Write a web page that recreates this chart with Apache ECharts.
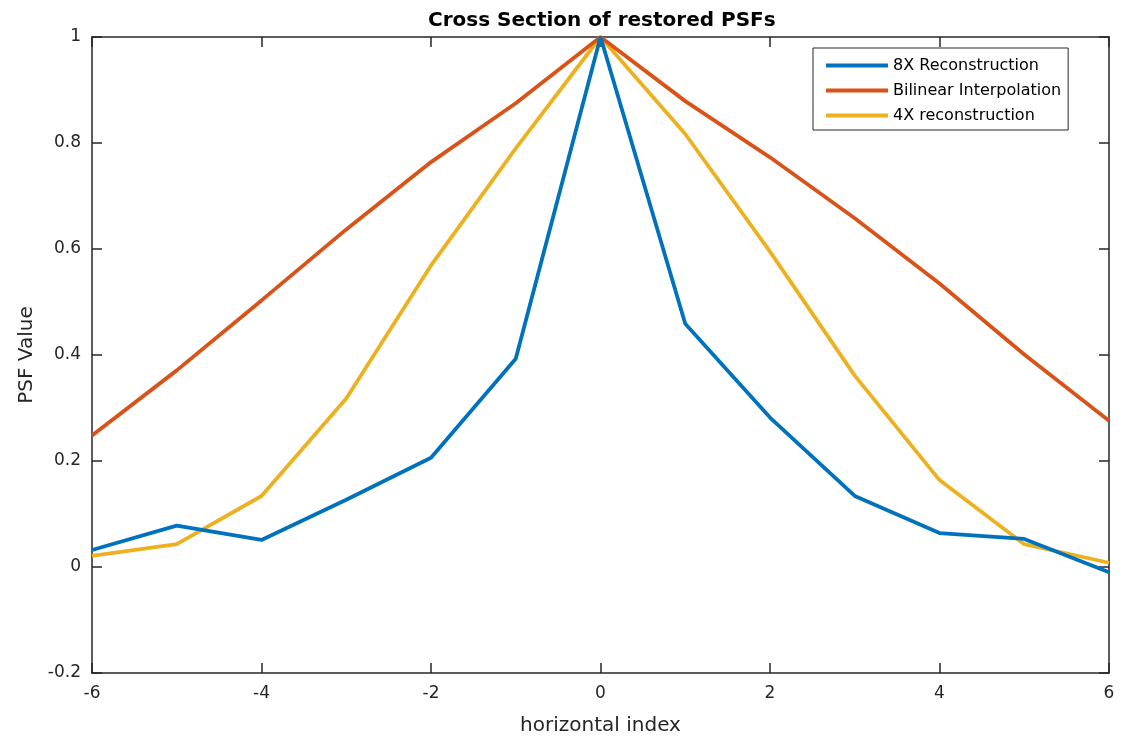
<!DOCTYPE html>
<html>
<head>
<meta charset="utf-8">
<script src="https://cdn.jsdelivr.net/npm/echarts@6/dist/echarts.min.js"></script>
<style>html,body{margin:0;padding:0;background:#fff}#c{width:1122px;height:736px}</style>
</head>
<body>
<div id="c"></div>
<script>
var xIndex = [-6, -5, -4, -3, -2, -1, 0, 1, 2, 3, 4, 5, 6];
var recon8x = [0.032, 0.078, 0.051, 0.127, 0.206, 0.393, 1.0, 0.459, 0.282, 0.134, 0.064, 0.053, -0.010];
var bilinear = [0.248, 0.371, 0.503, 0.637, 0.764, 0.875, 1.0, 0.879, 0.773, 0.658, 0.535, 0.401, 0.276];
var recon4x = [0.021, 0.043, 0.134, 0.318, 0.569, 0.790, 1.0, 0.817, 0.595, 0.361, 0.164, 0.043, 0.008];
var seriesNames = ['8X Reconstruction', 'Bilinear Interpolation', '4X reconstruction'];
var colors = ['#0072BD', '#D95319', '#EDB120'];

function pairs(ys) { return xIndex.map(function (x, i) { return [x, ys[i]]; }); }

var font = "'DejaVu Sans', sans-serif";
var axisCol = '#262626';
var chart = echarts.init(document.getElementById('c'), null, { renderer: 'canvas' });
var xBase = {
  type: 'value', min: -6, max: 6, interval: 2,
  axisLine: { show: true, onZero: false, lineStyle: { color: axisCol, width: 1.5 } },
  axisTick: { show: true, inside: true, length: 10, lineStyle: { color: axisCol, width: 1.5 } },
  splitLine: { show: false }
};
var yBase = {
  type: 'value', min: -0.2, max: 1, interval: 0.2,
  axisLine: { show: true, onZero: false, lineStyle: { color: axisCol, width: 1.5 } },
  axisTick: { show: true, inside: true, length: 10, lineStyle: { color: axisCol, width: 1.5 } },
  splitLine: { show: false }
};
var option = {
  backgroundColor: '#fff',
  animation: false,
  title: {
    text: 'Cross Section of restored PSFs', left: 423, top: 6,
    textStyle: { fontFamily: font, fontSize: 20, fontWeight: 'bold', color: '#000' }
  },
  grid: { left: 92, right: 13, top: 37, bottom: 63, containLabel: false, outerBoundsMode: 'none' },
  legend: {
    orient: 'vertical', left: 813, top: 48,
    data: seriesNames,
    icon: 'rect', itemWidth: 62, itemHeight: 4, itemGap: 6,
    padding: [8, 7, 5, 13],
    borderColor: axisCol, borderWidth: 1, backgroundColor: '#fff',
    textStyle: { fontFamily: font, fontSize: 16, lineHeight: 19, color: '#000' }
  },
  xAxis: [
    Object.assign({}, xBase, {
      position: 'bottom',
      name: 'horizontal index', nameLocation: 'middle', nameGap: 43,
      nameTextStyle: { fontFamily: font, fontSize: 20, color: axisCol },
      axisLabel: { fontFamily: font, fontSize: 17, color: axisCol, margin: 12,
        formatter: function (v) { return String(v); } }
    }),
    Object.assign({}, xBase, { position: 'top', axisLabel: { show: false } })
  ],
  yAxis: [
    Object.assign({}, yBase, {
      position: 'left',
      name: 'PSF Value', nameLocation: 'middle', nameGap: 49,
      nameTextStyle: { fontFamily: font, fontSize: 20, color: axisCol },
      axisLabel: { fontFamily: font, fontSize: 17, color: axisCol, margin: 11,
        formatter: function (v) { return String(Math.round(v * 10) / 10); } }
    }),
    Object.assign({}, yBase, { position: 'right', axisLabel: { show: false } })
  ],
  series: [recon8x, bilinear, recon4x].map(function (ys, i) {
    return {
      name: seriesNames[i], type: 'line', data: pairs(ys),
      xAxisIndex: 0, yAxisIndex: 0,
      symbol: 'none', color: colors[i],
      lineStyle: { color: colors[i], width: 3.8 }, z: 3 - i
    };
  })
};
chart.setOption(option);
</script>
</body>
</html>
